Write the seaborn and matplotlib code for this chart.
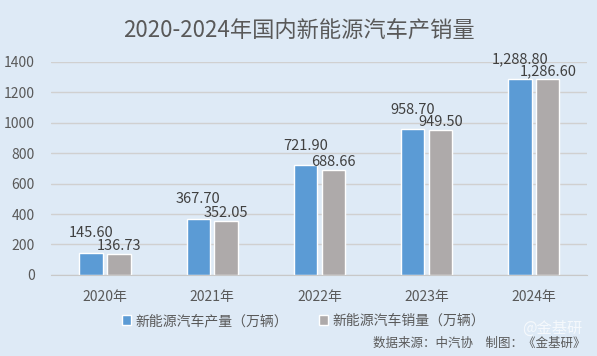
import pandas as pd
import matplotlib.pyplot as plt
import seaborn as sns

years = ['2020年', '2021年', '2022年', '2023年', '2024年']
production = [145.60, 367.70, 721.90, 958.70, 1288.80]
sales = [136.73, 352.05, 688.66, 949.50, 1286.60]
series_names = ['新能源汽车产量（万辆）', '新能源汽车销量（万辆）']

df = pd.DataFrame({
    'year': years * 2,
    'value': production + sales,
    'series': [series_names[0]] * 5 + [series_names[1]] * 5,
})

bg = '#DEEAF6'
txt = '#595959'

sns.set_style('white')
plt.rcParams['font.family'] = ['Noto Sans CJK SC', 'DejaVu Sans']

fig = plt.figure(figsize=(5.97, 3.56), dpi=100, facecolor=bg)
ax = fig.add_axes([0.086, 0.228, 0.898, 0.598])
ax.set_facecolor(bg)

sns.barplot(data=df, x='year', y='value', hue='series', ax=ax,
            palette=['#5B9BD5', '#AEAAAA'], width=0.52, gap=0.16,
            saturation=1, legend=True)

# blue labels sit higher so they don't collide with the grey ones
for c, pad in zip(ax.containers, [9, 1]):
    ax.bar_label(c, labels=[f'{v:,.2f}' for v in c.datavalues],
                 fontsize=10.5, color='#404040', padding=pad)

ax.set_ylim(0, 1400)
ax.set_yticks(range(0, 1401, 200))
ax.set_xlim(-0.5, 4.5)
ax.grid(axis='y', color='#D0D0D0', linewidth=1)
ax.set_axisbelow(True)
for s in ['top', 'right', 'left']:
    ax.spines[s].set_visible(False)
ax.spines['bottom'].set_color('#C8C8C8')
ax.tick_params(axis='both', length=0, labelsize=10, labelcolor=txt)
ax.tick_params(axis='x', pad=11)
ax.tick_params(axis='y', pad=12)
ax.set_xlabel('')
ax.set_ylabel('')

leg = ax.legend(loc='upper center', bbox_to_anchor=(0.47, -0.125), ncol=2,
                frameon=False, fontsize=10, handlelength=0.7, handleheight=0.7,
                handletextpad=0.3, columnspacing=2.2)
for t in leg.get_texts():
    t.set_color(txt)

fig.text(0.5, 0.912, '2020-2024年国内新能源汽车产销量', ha='center', va='center',
         fontsize=16, color=txt)
fig.text(0.98, 0.035, '数据来源：中汽协　制图：《金基研》', ha='right', va='center',
         fontsize=9, color=txt)
fig.text(0.975, 0.078, '@金基研', ha='right', va='center',
         fontsize=11, color='white', alpha=0.7)

fig.savefig('out.png', dpi=100, facecolor=bg)
